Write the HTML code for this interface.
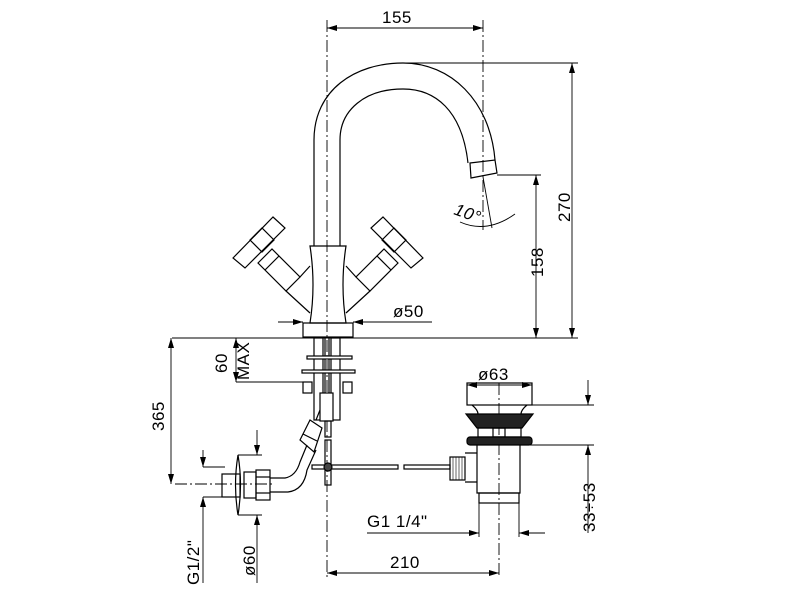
<!DOCTYPE html>
<html><head><style>body{margin:0;background:#fff}svg{display:block}text{font-family:"Liberation Sans",sans-serif;font-size:17px;letter-spacing:0.5px;fill:#000}</style></head><body>
<svg width="800" height="600" viewBox="0 0 800 600" xmlns="http://www.w3.org/2000/svg" fill="none" stroke="#000" stroke-width="1.2">
<defs><marker id="a" viewBox="0 0 10 6" refX="10" refY="3" markerWidth="14" markerHeight="6" markerUnits="userSpaceOnUse" orient="auto-start-reverse"><path d="M0,0L10,3L0,6z" fill="#000" stroke="none"/></marker></defs>
<g stroke-width="0.9" stroke-dasharray="12,3,2,3">
<line x1="327" y1="20" x2="327" y2="580"/><line x1="483" y1="20" x2="483" y2="230"/>
<line x1="499" y1="383" x2="499" y2="578"/><line x1="175" y1="484" x2="275" y2="484"/>
</g>
<g stroke-width="0.9">
<line x1="327" y1="28" x2="483" y2="28" marker-start="url(#a)" marker-end="url(#a)"/>
<line x1="403" y1="63" x2="578" y2="63"/><line x1="572" y1="63" x2="572" y2="338" marker-start="url(#a)" marker-end="url(#a)"/>
<line x1="497" y1="175" x2="541" y2="175"/><line x1="536" y1="175" x2="536" y2="338" marker-start="url(#a)" marker-end="url(#a)"/>
<line x1="172" y1="338" x2="578" y2="338"/>
<line x1="278" y1="322" x2="303" y2="322" marker-end="url(#a)"/><line x1="432" y1="322" x2="353" y2="322" marker-end="url(#a)"/>
<line x1="483" y1="177" x2="492" y2="228"/><path d="M460,222 Q487,234 515,214"/>
<line x1="236" y1="338" x2="236" y2="382" marker-start="url(#a)" marker-end="url(#a)"/><line x1="236" y1="382" x2="303" y2="382"/>
<line x1="171" y1="338" x2="171" y2="484" marker-start="url(#a)" marker-end="url(#a)"/>
<line x1="467" y1="385" x2="532" y2="385" marker-start="url(#a)" marker-end="url(#a)"/>
<line x1="532" y1="405" x2="594" y2="405"/><line x1="520" y1="445" x2="594" y2="445"/>
<line x1="588" y1="380" x2="588" y2="405" marker-end="url(#a)"/><line x1="588" y1="533" x2="588" y2="445" marker-end="url(#a)"/>
<line x1="479" y1="503" x2="479" y2="537"/><line x1="519" y1="503" x2="519" y2="537"/>
<line x1="367" y1="533" x2="479" y2="533" marker-end="url(#a)"/><line x1="545" y1="533" x2="519" y2="533" marker-end="url(#a)"/>
<line x1="327" y1="573" x2="499" y2="573" marker-start="url(#a)" marker-end="url(#a)"/>
<line x1="203" y1="467" x2="225" y2="467"/><line x1="203" y1="497" x2="225" y2="497"/>
<line x1="203" y1="450" x2="203" y2="467" marker-end="url(#a)"/><line x1="203" y1="583" x2="203" y2="497" marker-end="url(#a)"/>
<line x1="238" y1="455" x2="262" y2="455"/><line x1="238" y1="515" x2="262" y2="515"/>
<line x1="257" y1="430" x2="257" y2="455" marker-end="url(#a)"/><line x1="257" y1="583" x2="257" y2="515" marker-end="url(#a)"/>
</g>
<path d="M314,246 L314,140 C314,90 355,63 403,63 C450,63 490,100 495,160"/>
<path d="M340,246 L340,140 C340,110 365,89 403,89 C435,89 462,110 468,163"/>
<path d="M470,163 L495,160 L497,173 L471,178 Z"/>
<path d="M310,246 L346,246 Q340,285 346,323 L310,323 Q316,285 310,246 Z"/>
<rect x="303" y="323" width="50" height="14"/>
<g id="h">
<path d="M233,258 L273,217 L285,228 L245,268 Z"/>
<path d="M250,240 L262,228 L274,240 L262,252 Z"/>
<path d="M258,263 L272,249 L300,277 L286,291 Z"/>
<path d="M279,256 L265,270"/>
<path d="M286,291 L310,313 M300,277 L310,266"/>
</g>
<use href="#h" transform="translate(656,0) scale(-1,1)"/>
<rect x="314" y="338" width="9" height="82"/><rect x="331" y="338" width="9" height="82"/>
<line x1="325" y1="338" x2="325" y2="393"/><line x1="329" y1="338" x2="329" y2="393"/>
<rect x="307" y="356" width="45" height="3" fill="#fff"/><rect x="302" y="370" width="53" height="3" fill="#fff"/>
<rect x="303" y="382" width="9" height="11"/><rect x="343" y="382" width="9" height="11"/>
<rect x="320" y="393" width="13" height="28" fill="#fff"/>
<rect x="325" y="421" width="6" height="16"/><rect x="325" y="440" width="6" height="45"/>
<rect x="312" y="465" width="86" height="4"/><rect x="404" y="465" width="46" height="4"/>
<circle cx="328" cy="467" r="4" fill="#444"/>
<path d="M238,455 Q233,485 238,515 Q243,485 238,455 Z"/>
<rect x="222" y="474" width="18" height="23"/><rect x="244" y="472" width="12" height="26"/>
<rect x="256" y="470" width="14" height="30"/><line x1="256" y1="477" x2="270" y2="477"/><line x1="256" y1="493" x2="270" y2="493"/>
<path d="M270,478 L285,478 Q296,476 300,462 L307,445"/>
<path d="M270,492 L288,492 Q304,490 307,470 L316,450"/>
<path d="M300,440 L310,420 L322,428 L314,452 Z"/><line x1="303" y1="434" x2="317" y2="441"/>
<line x1="316" y1="420" x2="320" y2="410"/>
<rect x="467" y="383" width="65" height="22"/>
<path d="M472,405 Q478,410 478,414 M527,405 Q521,410 521,414"/>
<path d="M466,414 L533,414 L522,428 L477,428 Z" fill="#222"/>
<rect x="478" y="428" width="43" height="9"/><rect x="493" y="428" width="12" height="9"/>
<rect x="467" y="437" width="65" height="8" rx="3" fill="#222"/>
<path d="M477,445 L477,493 L520,493 L520,445"/>
<rect x="479" y="493" width="40" height="10"/>
<path d="M465,453 L477,453 M465,482 L477,482"/>
<rect x="450" y="457" width="15" height="23"/>
<g stroke-width="0.6"><line x1="453" y1="457" x2="453" y2="480"/><line x1="456" y1="457" x2="456" y2="480"/><line x1="459" y1="457" x2="459" y2="480"/><line x1="462" y1="457" x2="462" y2="480"/></g>
<g stroke="none">
<text x="382" y="23">155</text>
<text x="393" y="317">ø50</text>
<text x="478" y="380">ø63</text>
<text x="390" y="568">210</text>
<text x="367" y="527">G1  1/4"</text>
<text transform="translate(453,214) rotate(20)" font-style="italic">10°</text>
<text transform="translate(570,222) rotate(-90)">270</text>
<text transform="translate(543,277) rotate(-90)">158</text>
<text transform="translate(227,373) rotate(-90)">60</text>
<text transform="translate(249,380) rotate(-90)">MAX</text>
<text transform="translate(164,431) rotate(-90)">365</text>
<text transform="translate(595,532) rotate(-90)">33÷53</text>
<text transform="translate(199,585) rotate(-90)">G1/2"</text>
<text transform="translate(255,576) rotate(-90)">ø60</text>
</g>
</svg>
</body></html>
